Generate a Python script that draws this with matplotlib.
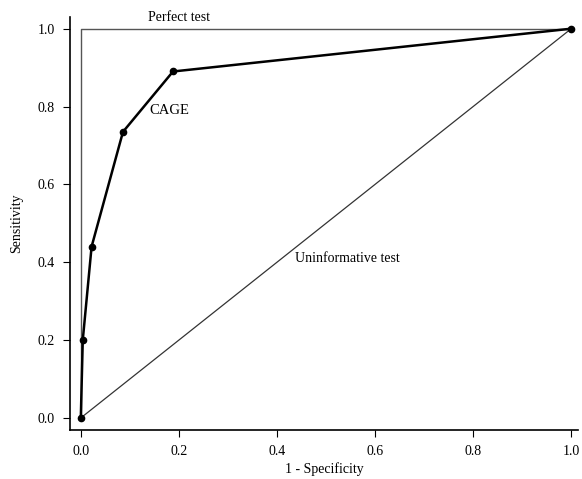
import matplotlib.pyplot as plt

plt.rcParams['font.family'] = ['Liberation Serif', 'DejaVu Serif']

# CAGE ROC points
fpr = [0.0, 0.004, 0.022, 0.086, 0.188, 1.0]
tpr = [0.0, 0.20, 0.44, 0.735, 0.89, 1.0]

perfect_x = [0.0, 0.0, 1.0]
perfect_y = [0.0, 1.0, 1.0]
diag = [0.0, 1.0]

ticks = [0.0, 0.2, 0.4, 0.6, 0.8, 1.0]
tick_labels = ['0.0', '0.2', '0.4', '0.6', '0.8', '1.0']

fig = plt.figure(figsize=(5.82, 4.79), dpi=100)
ax = fig.add_axes([0.1203, 0.1023, 0.873, 0.8622])

ax.plot(perfect_x, perfect_y, color='#555555', lw=1.0)
ax.plot(diag, diag, color='#333333', lw=0.9)
ax.plot(fpr, tpr, color='black', lw=1.8, marker='o', ms=4.5)

ax.text(0.2, 1.012, 'Perfect test', ha='center', va='bottom', fontsize=10)
ax.text(0.14, 0.79, 'CAGE', ha='left', va='center', fontsize=10.5)
ax.text(0.437, 0.41, 'Uninformative test', ha='left', va='center', fontsize=10)

ax.set_xlim(-0.022, 1.014)
ax.set_ylim(-0.031, 1.03)
ax.set_xticks(ticks)
ax.set_xticklabels(tick_labels)
ax.set_yticks(ticks)
ax.set_yticklabels(tick_labels)
ax.tick_params(direction='out', length=5, width=0.8, labelsize=10)
ax.tick_params(axis='y', pad=6)
ax.tick_params(axis='x', pad=6)

ax.spines['top'].set_visible(False)
ax.spines['right'].set_visible(False)
ax.spines['left'].set_linewidth(1.2)
ax.spines['bottom'].set_linewidth(1.2)

ax.set_xlabel('1 - Specificity', fontsize=10, labelpad=3)
ax.set_ylabel('Sensitivity', fontsize=10, labelpad=10)

plt.savefig('out.png', dpi=100)
